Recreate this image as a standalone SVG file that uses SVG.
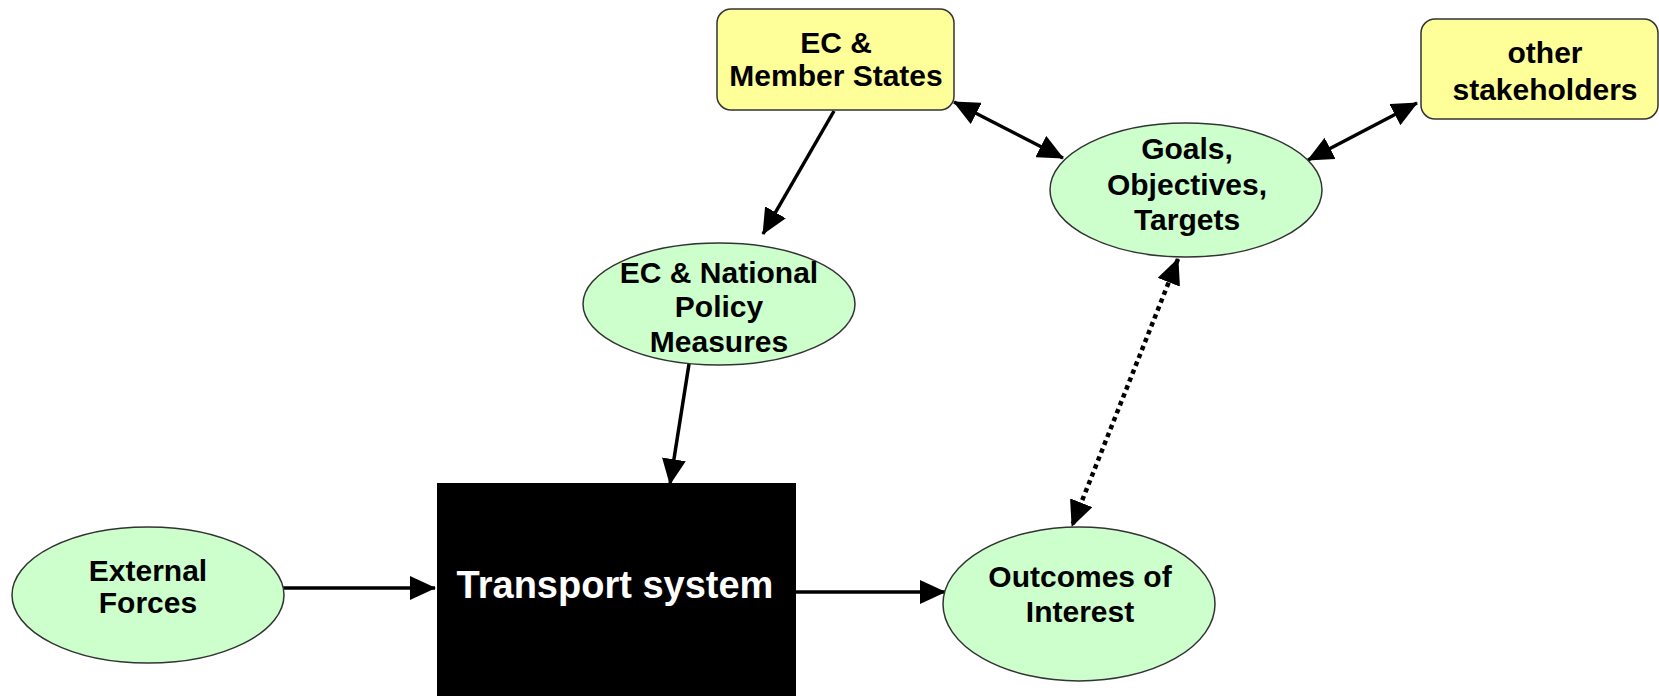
<svg xmlns="http://www.w3.org/2000/svg" width="1659" height="696" viewBox="0 0 1659 696">
<style>
.box{fill:#ffff99;stroke:#333;stroke-width:1.5}
.ell{fill:#ccffcc;stroke:#333;stroke-width:1.5}
.t{font-family:"Liberation Sans",Arial,sans-serif;font-weight:bold;font-size:30px;fill:#000;text-anchor:middle}
.tw{font-family:"Liberation Sans",Arial,sans-serif;font-weight:bold;font-size:38px;fill:#fff;text-anchor:middle}
.c{stroke:#000;stroke-width:3.5;fill:none}
.d{stroke:#000;stroke-width:4.5;fill:none;stroke-dasharray:4.5 4}
</style>
<defs>
<marker id="ah" markerUnits="userSpaceOnUse" markerWidth="26" markerHeight="24" viewBox="0 0 26 24" refX="25" refY="12" orient="auto-start-reverse">
<path d="M0,0 L26,12 L0,24 z" fill="#000"/>
</marker>
</defs>
<rect width="1659" height="696" fill="#fff"/>
<g id="connectors">
<line class="c" x1="834" y1="111" x2="763" y2="234" marker-end="url(#ah)"/>
<line class="c" x1="689" y1="364" x2="670" y2="484" marker-end="url(#ah)"/>
<line class="c" x1="954" y1="102" x2="1063" y2="158" marker-start="url(#ah)" marker-end="url(#ah)"/>
<line class="c" x1="1417" y1="103" x2="1308" y2="160" marker-start="url(#ah)" marker-end="url(#ah)"/>
<line class="d" x1="1178" y1="259" x2="1072" y2="526" marker-start="url(#ah)" marker-end="url(#ah)"/>
<line class="c" x1="283" y1="588" x2="435" y2="588" marker-end="url(#ah)"/>
<line class="c" x1="796" y1="592" x2="945" y2="592" marker-end="url(#ah)"/>
</g>
<g id="ec-member-states">
<rect class="box" x="717" y="9" width="237" height="101" rx="14"/>
<text class="t" x="836" y="53">EC &amp;</text>
<text class="t" x="836" y="86">Member States</text>
</g>
<g id="other-stakeholders">
<rect class="box" x="1421" y="19" width="237" height="100" rx="14"/>
<text class="t" x="1545" y="63">other</text>
<text class="t" x="1545" y="100">stakeholders</text>
</g>
<g id="goals">
<ellipse class="ell" cx="1186" cy="190" rx="136" ry="67"/>
<text class="t" x="1187" y="159">Goals,</text>
<text class="t" x="1187" y="195">Objectives,</text>
<text class="t" x="1187" y="230">Targets</text>
</g>
<g id="policy-measures">
<ellipse class="ell" cx="719" cy="304" rx="136" ry="61"/>
<text class="t" x="719" y="283">EC &amp; National</text>
<text class="t" x="719" y="317">Policy</text>
<text class="t" x="719" y="352">Measures</text>
</g>
<g id="external-forces">
<ellipse class="ell" cx="148" cy="595" rx="136" ry="68"/>
<text class="t" x="148" y="581">External</text>
<text class="t" x="148" y="613">Forces</text>
</g>
<g id="transport-system">
<rect x="437" y="483" width="359" height="213" fill="#000"/>
<text class="tw" x="615" y="598">Transport system</text>
</g>
<g id="outcomes">
<ellipse class="ell" cx="1079" cy="604" rx="136" ry="77"/>
<text class="t" x="1080" y="587">Outcomes of</text>
<text class="t" x="1080" y="622">Interest</text>
</g>
</svg>
